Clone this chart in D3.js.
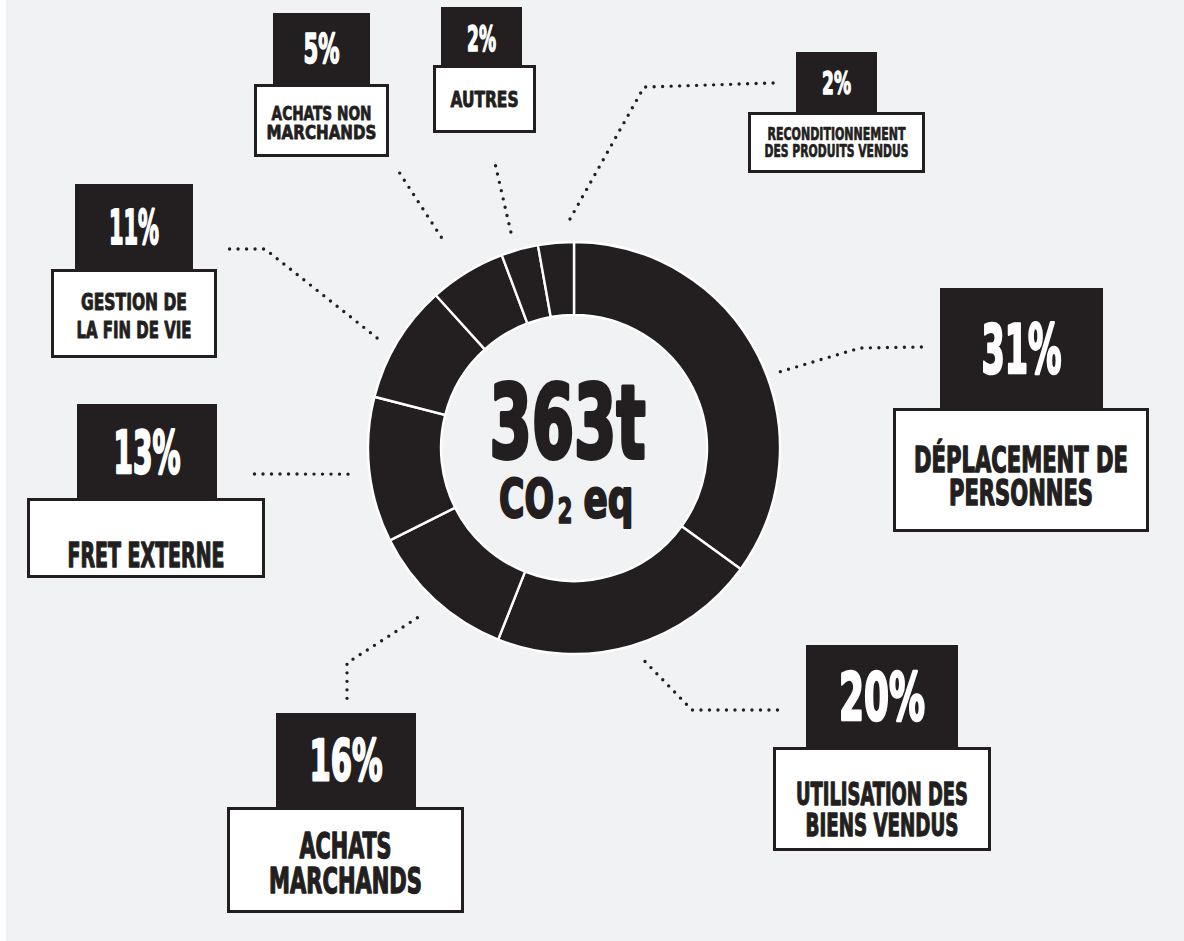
<!DOCTYPE html>
<html>
<head>
<meta charset="utf-8">
<script src="https://cdn.jsdelivr.net/npm/d3@7"></script>
<style>
  html, body { margin: 0; padding: 0; background: #ffffff; }
  svg { display: block; }
  text { font-family: 'Liberation Sans Narrow', 'DejaVu Sans Condensed', 'Roboto', sans-serif; font-weight: 700; }
</style>
</head>
<body>
<div id="chart"></div>
<script>
// ---------------- DATA ----------------
const categories = [
  "DÉPLACEMENT DE PERSONNES",
  "UTILISATION DES BIENS VENDUS",
  "ACHATS MARCHANDS",
  "FRET EXTERNE",
  "GESTION DE LA FIN DE VIE",
  "ACHATS NON MARCHANDS",
  "AUTRES",
  "RECONDITIONNEMENT DES PRODUITS VENDUS"
];
const labelLines = [
  ["DÉPLACEMENT DE", "PERSONNES"],
  ["UTILISATION DES", "BIENS VENDUS"],
  ["ACHATS", "MARCHANDS"],
  ["FRET EXTERNE"],
  ["GESTION DE", "LA FIN DE VIE"],
  ["ACHATS NON", "MARCHANDS"],
  ["AUTRES"],
  ["RECONDITIONNEMENT", "DES PRODUITS VENDUS"]
];
const percentLabels = ["31%", "20%", "16%", "13%", "11%", "5%", "2%", "2%"];
// slice sizes as they are drawn in the ring of the picture (in % of the circle)
const arcShares = [35, 21, 11.6, 11.4, 9.3, 6, 2.9, 2.8];
const totalLabel = "363t";
const unitMain = "CO";
const unitSub = "2";
const unitTail = "eq";

// ---------------- LAYOUT ----------------
const W = 1184, H = 941;
const cx = 574, cy = 448, rOuter = 206, rInner = 133;
const DARK = "#231f20", BG = "#f1f2f4";
const CAP = 0.72;      // cap-height / font-size
const HEAVY = 0.055;   // extra stroke (x cap height) to thicken the glyphs

// per callout: black box, white box [x,y,w,h], percent glyph size, label line sizes, leader line
const callouts = [
  { black:[940,288,163,120], white:[893,408,256,124], pct:{cap:49,w:80},
    lines:[{w:214,base:472,cap:25},{w:144,base:505,cap:26}],
    leader:{a:69.7,r:220,pts:[[860,348],[922,347]]} },
  { black:[806,645,152,102], white:[773,747,218,104], pct:{cap:48,w:86},
    lines:[{w:172,base:805,cap:23},{w:153,base:836,cap:23}],
    leader:{a:161.6,r:225,pts:[[692,710],[781,710]]} },
  { black:[276,713,140,94], white:[227,807,237,106], pct:{cap:41,w:73},
    lines:[{w:92,base:858,cap:25},{w:153,base:893,cap:26}],
    leader:{a:222.7,r:231,pts:[[347,663],[347,700]]} },
  { black:[77,404,140,96], white:[27,498,238,80], pct:{cap:42,w:67},
    lines:[{w:157,base:567,cap:24}],
    leader:{a:263.4,r:227.5,pts:[[247,474]]} },
  { black:[75,184,118,85], white:[51,269,166,89], pct:{cap:35,w:50},
    lines:[{w:106,base:310,cap:17},{w:115,base:338,cap:17}],
    leader:{a:299.2,r:225.6,pts:[[265,249],[227,249]]} },
  { black:[273,13,97,71], white:[254,84,135,73], pct:{cap:29,w:36},
    lines:[{w:100,base:120,cap:14},{w:110,base:139,cap:14}],
    leader:{a:327.8,r:249,pts:[[399,172]]} },
  { black:[441,7,81,61], white:[433,65,103,68], pct:{cap:26,w:29},
    lines:[{w:68,base:107,cap:15}],
    leader:{a:343.7,r:225,pts:[[494,159]]} },
  { black:[796,52,81,60], white:[748,112,177,61], pct:{cap:23,w:29},
    lines:[{w:138,base:140,cap:13},{w:144,base:157,cap:13}],
    leader:{a:359,r:229,pts:[[644,87],[774,83]]} }
];

// ---------------- DRAW ----------------
const svg = d3.select("#chart").append("svg")
  .attr("width", W).attr("height", H);

svg.append("rect").attr("x", 6).attr("y", 0)
  .attr("width", W - 6).attr("height", H).attr("fill", BG);

// text drawn at natural size then squeezed horizontally to the measured width
function fitText(sel, str, x, base, cap, w, color) {
  const t = sel.append("text")
    .attr("x", 0).attr("y", 0)
    .attr("text-anchor", "middle")
    .attr("font-size", cap / CAP)
    .attr("fill", color)
    .attr("stroke", color)
    .attr("stroke-width", cap * HEAVY)
    .attr("stroke-linejoin", "round")
    .text(str);
  const natural = t.node().getComputedTextLength() || w;
  t.attr("transform", `translate(${x},${base}) scale(${w / natural},1)`);
  return t;
}

// leader lines (dotted)
const line = d3.line();
const leaders = svg.append("g");
callouts.forEach(c => {
  const p0 = d3.pointRadial(c.leader.a * Math.PI / 180, c.leader.r);
  const pts = [[cx + p0[0], cy + p0[1]], ...c.leader.pts];
  leaders.append("path")
    .attr("d", line(pts))
    .attr("fill", "none")
    .attr("stroke", DARK)
    .attr("stroke-width", 3.4)
    .attr("stroke-linecap", "round")
    .attr("stroke-linejoin", "round")
    .attr("stroke-dasharray", "0 8.5");
});

// donut
const pie = d3.pie().sort(null).value(d => d);
const arc = d3.arc().innerRadius(rInner).outerRadius(rOuter);
const ring = svg.append("g").attr("transform", `translate(${cx},${cy})`);
ring.selectAll("path")
  .data(pie(arcShares))
  .join("path")
  .attr("d", arc)
  .attr("fill", DARK)
  .attr("stroke", "#ffffff")
  .attr("stroke-width", 2.4)
  .attr("stroke-linejoin", "miter");

// centre text
const centre = svg.append("g");
fitText(centre, totalLabel, cx - 6.5, cy + 10, 73, 156, DARK);
fitText(centre, unitMain, cx - 47.5, cy + 69, 39, 55, DARK);
fitText(centre, unitSub, cx - 9, cy + 75, 25, 15, DARK);
fitText(centre, unitTail, cx + 34.5, cy + 69, 38, 50, DARK);

// callouts
const boxes = svg.append("g");
callouts.forEach((c, i) => {
  const g = boxes.append("g").attr("class", "callout").attr("data-category", categories[i]);
  const [bx, by, bw, bh] = c.black;
  const [wx, wy, ww, wh] = c.white;
  g.append("rect").attr("x", bx).attr("y", by).attr("width", bw).attr("height", bh)
    .attr("fill", DARK);
  g.append("rect").attr("x", wx + 1.5).attr("y", wy + 1.5)
    .attr("width", ww - 3).attr("height", wh - 3)
    .attr("fill", "#ffffff").attr("stroke", DARK).attr("stroke-width", 3);
  fitText(g, percentLabels[i], bx + bw / 2, by + bh / 2 + c.pct.cap / 2, c.pct.cap, c.pct.w, "#ffffff");
  labelLines[i].forEach((t, j) => {
    const L = c.lines[j];
    fitText(g, t, wx + ww / 2, L.base, L.cap, L.w, DARK);
  });
});
</script>
</body>
</html>
